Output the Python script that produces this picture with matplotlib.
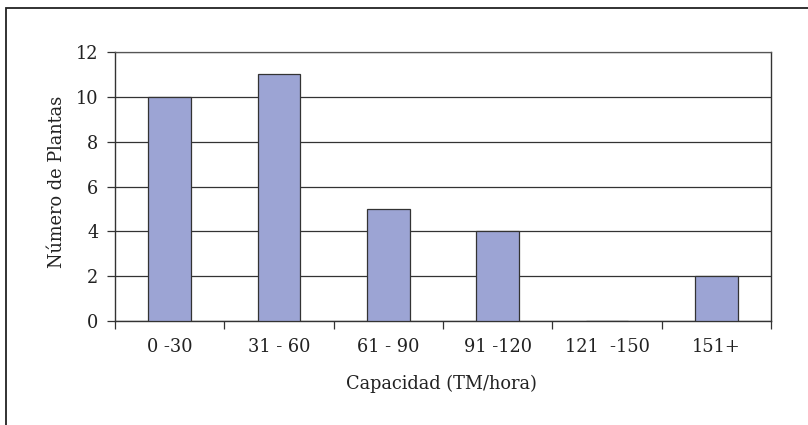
import matplotlib
matplotlib.use("Agg")
import matplotlib.pyplot as plt
from matplotlib.patches import Rectangle

categories = ["0 -30", "31 - 60", "61 - 90", "91 -120", "121  -150", "151+"]
values = [10, 11, 5, 4, 0, 2]
yticks = [0, 2, 4, 6, 8, 10, 12]

W, H = 808, 425
fig = plt.figure(figsize=(W / 100, H / 100), dpi=100)
fig.patch.set_facecolor("white")

# outer frame (partially cropped at right/bottom)
fig.add_artist(Rectangle((6 / W, -0.05), 1.1, (H - 8) / H + 0.05, transform=fig.transFigure,
                         fill=False, edgecolor="#222222", linewidth=1.3))

left, right, top, bottom = 115, 771, 52, 321
ax = fig.add_axes([left / W, 1 - bottom / H, (right - left) / W, (bottom - top) / H])

font = "DejaVu Serif"
fs = 12.8
tc = "#222222"
x = list(range(len(categories)))
ax.bar(x, values, width=0.39, color="#9ca4d4", edgecolor="#333333", linewidth=0.9, zorder=3)

ax.set_xlim(-0.5, len(categories) - 0.5)
ax.set_ylim(0, 12)
ax.set_yticks(yticks)
ax.set_yticklabels([str(v) for v in yticks], fontfamily=font, fontsize=fs, color=tc)
ax.yaxis.grid(True, color="#333333", linewidth=0.9, zorder=0)

ax.set_xticks([i - 0.5 for i in range(len(categories) + 1)])
ax.set_xticklabels([])
ax.set_xticks(x, minor=True)
ax.set_xticklabels(categories, minor=True, fontfamily=font, fontsize=fs, color=tc)
ax.tick_params(axis="x", which="major", length=6, width=0.9, color="#333333", direction="out")
ax.tick_params(axis="x", which="minor", length=0, pad=12)
ax.tick_params(axis="y", length=6, width=0.9, color="#333333", direction="out", pad=6)

for s in ["left", "bottom", "right"]:
    ax.spines[s].set_color("#333333")
    ax.spines[s].set_linewidth(1.0)
ax.spines["top"].set_color("#555555")
ax.spines["top"].set_linewidth(0.9)

fig.text(57 / W, 1 - 182 / H, "Número de Plantas", rotation=90, ha="center", va="center",
         fontfamily=font, fontsize=fs, color=tc)
fig.text(441 / W, 1 - 384 / H, "Capacidad (TM/hora)", ha="center", va="center",
         fontfamily=font, fontsize=fs, color=tc)

fig.savefig("out.png", dpi=100)
